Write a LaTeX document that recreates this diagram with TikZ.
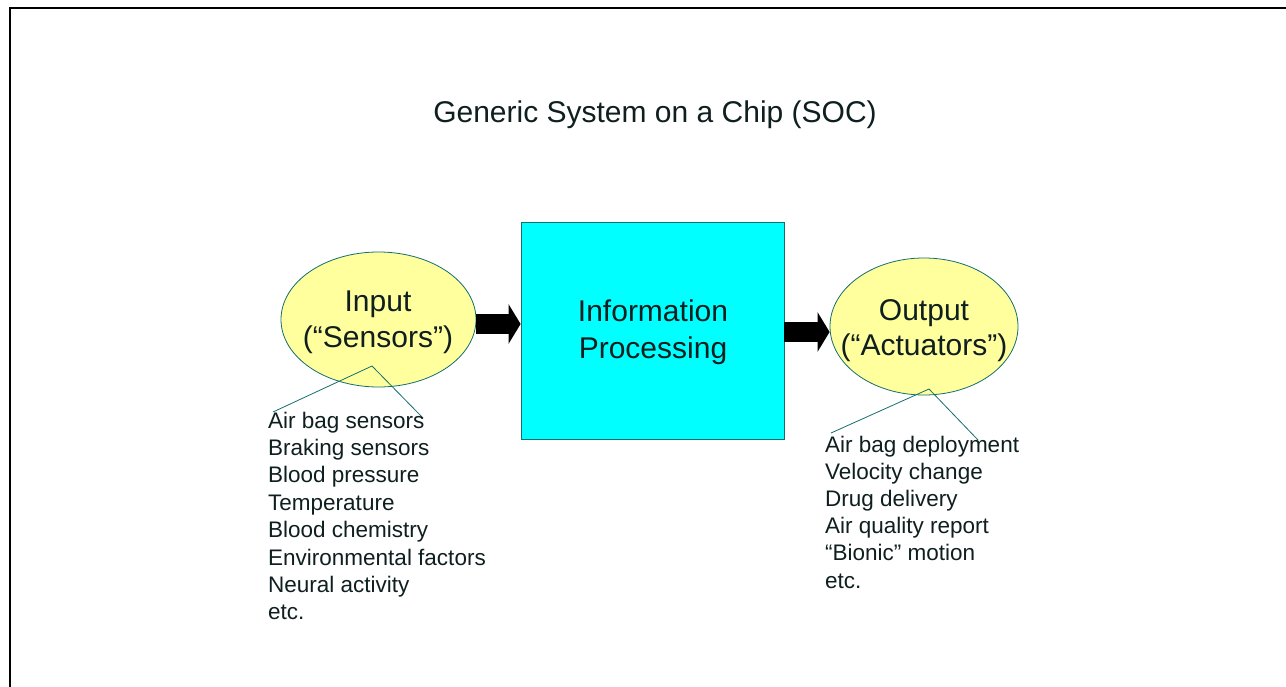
\documentclass[tikz,border=0pt]{standalone}
\usepackage{fontspec}
\setmainfont{Liberation Sans}
\usetikzlibrary{shapes.geometric,arrows.meta}
\definecolor{txt}{RGB}{15,30,30}
\definecolor{edge}{RGB}{20,110,110}
\definecolor{ellfill}{RGB}{255,255,158}
\definecolor{boxfill}{RGB}{0,255,255}
\tikzset{
  bigtxt/.style={font=\fontsize{30}{36}\selectfont, text=txt, inner sep=0pt, anchor=base},
  listtxt/.style={font=\fontsize{22.5}{27}\selectfont, text=txt, inner sep=0pt, anchor=base west},
  ellbox/.style={ellipse, draw=edge, line width=0.8pt, fill=ellfill, inner sep=0pt},
  procbox/.style={rectangle, draw=edge, line width=0.8pt, fill=boxfill, inner sep=0pt},
  bigarrow/.style={line width=20pt, -{Triangle[length=12pt, width=39pt]}, black},
  callout/.style={draw=edge, line width=0.8pt}
}
\begin{document}
\begin{tikzpicture}[x=1pt,y=-1pt]
\useasboundingbox (0,0) rectangle (1286,687);
% frame
\draw[line width=2pt] (10,692) -- (10,7.7) -- (1292,7.7);
% title
\node[bigtxt] (title) at (655,123) {Generic System on a Chip (SOC)};
% shapes
\node[ellbox, minimum width=195pt, minimum height=135pt] (in) at (378.5,319.5) {};
\node[procbox, minimum width=263pt, minimum height=217pt] (proc) at (652.5,330.5) {};
\node[ellbox, minimum width=188pt, minimum height=137pt] (out) at (924,326.5) {};
% texts in shapes
\node[bigtxt] (inA) at (378,312) {Input};
\node[bigtxt] (inB) at (378,348) {(“Sensors”)};
\node[bigtxt] (procA) at (653,322) {Information};
\node[bigtxt] (procB) at (653,358) {Processing};
\node[bigtxt] (outA) at (924,320) {Output};
\node[bigtxt] (outB) at (924,355) {(“Actuators”)};
% arrows
\draw[bigarrow] (in.east |- 0,324) -- (proc.west |- 0,324);
\draw[bigarrow] (proc.east |- 0,332) -- (out.west |- 0,332);
% callouts
\coordinate (inTip) at (372,366);
\coordinate (inL) at (273,412);
\coordinate (inR) at (423,418);
\draw[callout] (inL) -- (inTip) -- (inR);
\coordinate (outTip) at (929,389);
\coordinate (outL) at (831,433);
\coordinate (outR) at (978,440);
\draw[callout] (outL) -- (outTip) -- (outR);
% lists
\foreach \t [count=\i] in {Air bag sensors,Braking sensors,Blood pressure,Temperature,Blood chemistry,Environmental factors,Neural activity,etc.}
  \node[listtxt] (L\i) at (268,{428+27.4*(\i-1)}) {\t};
\foreach \t [count=\i] in {Air bag deployment,Velocity change,Drug delivery,Air quality report,“Bionic” motion,etc.}
  \node[listtxt] (R\i) at (825,{452+27.2*(\i-1)}) {\t};
\end{tikzpicture}
\end{document}
